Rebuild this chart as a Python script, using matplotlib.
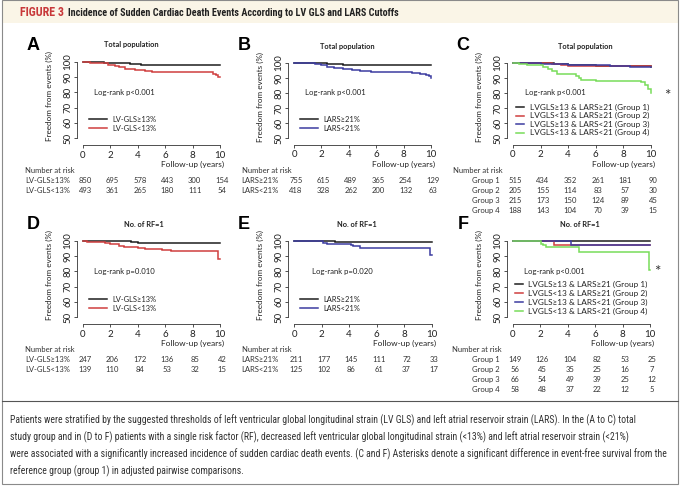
import matplotlib
matplotlib.use("Agg")
import matplotlib.pyplot as plt
from matplotlib import transforms, font_manager
from matplotlib.lines import Line2D
from matplotlib.patches import Rectangle

W, H = 680, 486

# ---------------- data ----------------
years = [0, 2, 4, 6, 8, 10]

# A: LV-GLS, total population
a_hi_t = [0, 1.5, 2.6, 3.4, 4.2, 9.6, 10]
a_hi_s = [100, 99.6, 99.1, 98.6, 98.1, 97.7, 97.7]
a_lo_t = [0, 0.5, 1.2, 1.8, 2.3, 2.6, 3.1, 3.8, 4.5, 5.0, 6.2, 9.5, 9.7, 9.85, 10]
a_lo_s = [100, 99.6, 99.1, 98.2, 97.3, 96.4, 95.6, 95.0, 94.2, 93.7, 93.3, 92.3, 91.2, 90.0, 90.0]

# B: LARS, total population
b_hi_t = [0, 2.4, 3.0, 3.6, 4.2, 10]
b_hi_s = [100, 99.6, 99.2, 98.8, 98.4, 98.4]
b_lo_t = [0, 1.5, 2.0, 2.4, 2.9, 3.6, 4.2, 4.8, 5.6, 8.6, 9.2, 9.6, 9.85, 10]
b_lo_s = [100, 99.5, 98.6, 97.6, 96.8, 96.3, 95.3, 94.4, 94.0, 93.5, 92.9, 92.0, 91.0, 90.3]

# C: four groups, total population
c1_t = [0, 1.5, 3.0, 4.0, 6.0, 8.0, 10]
c1_s = [100, 99.7, 99.2, 98.5, 98.2, 97.7, 97.5]
c2_t = [0, 2.8, 3.5, 4.0, 8.5, 10]
c2_s = [100, 99.3, 98.5, 98.0, 97.8, 97.8]
c3_t = [0, 2.0, 3.0, 4.0, 7.0, 8.5, 10]
c3_s = [100, 99.6, 99.0, 98.5, 98.2, 97.5, 97.5]
c4_t = [0, 0.4, 1.0, 1.8, 2.2, 2.5, 2.8, 3.2, 4.6, 4.75, 4.9, 6.0, 9.3, 9.6, 9.8, 10]
c4_s = [100, 99.3, 98.8, 98.4, 97.3, 96.0, 94.4, 92.6, 91.6, 90.0, 88.6, 88.1, 87.3, 85.4, 82.5, 80.0]

# D: LV-GLS, one risk factor
d_hi_t = [0, 1.0, 3.5, 4.0, 10]
d_hi_s = [100, 99.8, 99.3, 98.5, 98.5]
d_lo_t = [0, 0.3, 1.6, 2.0, 2.6, 3.0, 4.0, 4.5, 5.8, 6.4, 9.85, 10]
d_lo_s = [100, 99.5, 99.0, 98.0, 97.0, 96.3, 95.6, 94.8, 93.8, 93.1, 88.0, 88.0]

# E: LARS, one risk factor
e_hi_t = [0, 3.0, 10]
e_hi_s = [100, 99.5, 99.5]
e_lo_t = [0, 2.1, 2.4, 4.1, 4.3, 4.8, 9.85, 10]
e_lo_s = [100, 99.0, 98.2, 97.4, 96.6, 95.6, 91.0, 91.0]

# F: four groups, one risk factor
f1_t = [0, 10]
f1_s = [100, 100]
f2_t = [0, 3.0, 10]
f2_s = [100, 97.4, 97.4]
f3_t = [0, 4.2, 10]
f3_s = [100, 97.4, 97.4]
f4_t = [0, 2.05, 2.2, 2.4, 4.8, 9.9, 10]
f4_s = [100, 98.3, 97.2, 96.0, 93.0, 81.0, 81.0]

# numbers at risk
risk_a = [[850, 695, 578, 443, 300, 154], [493, 361, 265, 180, 111, 54]]
risk_b = [[755, 615, 489, 365, 254, 129], [418, 328, 262, 200, 132, 63]]
risk_c = [[515, 434, 352, 261, 181, 90], [205, 155, 114, 83, 57, 30],
          [215, 173, 150, 124, 89, 45], [188, 143, 104, 70, 39, 15]]
risk_d = [[247, 206, 172, 136, 85, 42], [139, 110, 84, 53, 32, 15]]
risk_e = [[211, 177, 145, 111, 72, 33], [125, 102, 86, 61, 37, 17]]
risk_f = [[149, 126, 104, 82, 53, 25], [56, 45, 35, 25, 16, 7],
          [66, 54, 49, 39, 25, 12], [58, 48, 37, 22, 12, 5]]

gls_labels = ["LV-GLS\u226513%", "LV-GLS<13%"]
lars_labels = ["LARS\u226521%", "LARS<21%"]
group_labels = ["LVGLS\u226513 & LARS\u226521 (Group 1)", "LVGLS<13 & LARS\u226521 (Group 2)",
                "LVGLS\u226513 & LARS<21 (Group 3)", "LVGLS<13 & LARS<21 (Group 4)"]
group_short = ["Group 1", "Group 2", "Group 3", "Group 4"]

caption = [
    "Patients were stratified by the suggested thresholds of left ventricular global longitudinal strain (LV GLS) and left atrial reservoir strain (LARS). In the (A to C) total",
    "study group and in (D to F) patients with a single risk factor (RF), decreased left ventricular global longitudinal strain (<13%) and left atrial reservoir strain (<21%)",
    "were associated with a significantly increased incidence of sudden cardiac death events. (C and F) Asterisks denote a significant difference in event-free survival from the",
    "reference group (group 1) in adjusted pairwise comparisons.",
]

BLACK, RED, BLUE, GREEN = "#1e1e1e", "#cf3f3f", "#3c3ca0", "#78dc5a"

# ---------------- fonts ----------------
installed = {f.name for f in font_manager.fontManager.ttflist}
plot_font = "Lato" if "Lato" in installed else "DejaVu Sans"
narrow = next((n for n in ["Liberation Sans Narrow", "Roboto Condensed", "Open Sans Condensed"]
               if n in installed), plot_font)
plt.rcParams["font.family"] = [plot_font, "DejaVu Sans"]

fig = plt.figure(figsize=(W / 100, H / 100), dpi=100)
fig.patch.set_facecolor("white")
TP = transforms.Affine2D().scale(1 / W, -1 / H).translate(0, 1) + fig.transFigure
renderer = fig.canvas.get_renderer()


def fs_for(s, width, **kw):
    t = fig.text(0, 0, s, fontsize=10, **kw)
    w = t.get_window_extent(renderer).width
    t.remove()
    return 10 * width / w


def txt(x, y, s, **kw):
    kw.setdefault("va", "center")
    kw.setdefault("color", "#222222")
    return fig.text(x, y, s, transform=TP, **kw)


# frame, header band, separator
fig.add_artist(Rectangle((2, 0), 676, 23, transform=TP, facecolor="#faf5e7", edgecolor="none"))
fig.add_artist(Rectangle((2, 0.5), 676, 483, transform=TP, facecolor="none",
                         edgecolor="#8a8a8a", lw=0.8))
fig.add_artist(Line2D([2, 678], [401, 401], transform=TP, color="#555555", lw=0.8))

head_font = [narrow, "DejaVu Sans"]
txt(20, 12.5, "FIGURE 3", fontsize=fs_for("FIGURE 3", 44, weight="bold", family=head_font),
    weight="bold", color="#c8383a", family=head_font)
head_title = "Incidence of Sudden Cardiac Death Events According to LV GLS and LARS Cutoffs"
txt(68, 12.5, head_title, fontsize=fs_for(head_title, 330, weight="bold", family=head_font),
    weight="bold", family=head_font)

cap_font = [narrow, "DejaVu Sans"]
cap_fs = min(fs_for(line, 648, family=cap_font) for line in caption[:3])
for i, line in enumerate(caption):
    txt(10, 420.5 + i * 16.8, line, fontsize=cap_fs, family=cap_font, color="#333333")

# font sizes for the panel texts
title_fs = fs_for("Total population", 54, weight="bold")
lr_fs = fs_for("Log-rank p<0.001", 61)
leg_fs = fs_for(gls_labels[0], 44)
leg4_fs = fs_for(group_labels[0], 119)
tab_fs = fs_for("Number at risk", 50)
fu_fs = fs_for("Follow-up (years)", 63)
yl_fs = fs_for("Freedom from events (%)", 90)


def km_panel(letter, title, title_x, pval, curves, colors, labels, risk, risk_labels,
             x0, x10, y100, y50, lr_dx, leg_y, leg_step, leg_x, leg_len, lab_x, nar_x,
             star=None):
    sx = (x10 - x0) / 10.0
    sy = (y50 - y100) / 50.0
    xlo, xhi, ylo, yhi = -0.44, 10.3, 45.4, 101.2
    left, right = x0 + xlo * sx, x0 + xhi * sx
    top, bottom = y100 - (yhi - 100) * sy, y100 + (100 - ylo) * sy
    ax = fig.add_axes([left / W, 1 - bottom / H, (right - left) / W, (bottom - top) / H])
    ax.set_xlim(xlo, xhi)
    ax.set_ylim(ylo, yhi)
    ax.patch.set_visible(False)
    for s in ["top", "right"]:
        ax.spines[s].set_visible(False)
    for s in ["left", "bottom"]:
        ax.spines[s].set_linewidth(0.6)
        ax.spines[s].set_color("#333333")
    ax.spines["left"].set_bounds(50, 100)
    ax.spines["bottom"].set_bounds(0, 10)
    ax.set_xticks(years)
    ax.set_yticks(range(50, 101, 10))
    ax.set_yticklabels([str(v) for v in range(50, 101, 10)], rotation=90, va="center")
    ax.tick_params(length=2.5, width=0.6, labelsize=7, color="#333333", labelcolor="#222222")
    ax.tick_params(axis="x", pad=1.5)
    ax.tick_params(axis="y", pad=0.8)

    for (t, s), c in zip(curves, colors):
        ax.step(t, s, where="post", color=c, lw=1.1, solid_joinstyle="miter")

    # text around the axes
    txt(x0 - 50, y100 - 17, letter, fontsize=13, weight="bold", ha="center",
        family=["Liberation Sans", "DejaVu Sans"], color="black")
    txt(title_x, y100 - 17, title, fontsize=title_fs, weight="bold", ha="center")
    txt(x0 + lr_dx, y100 + 30, pval, fontsize=lr_fs)
    txt(x0 - 34, (y100 + y50) / 2 - 4, "Freedom from events (%)", fontsize=yl_fs,
        rotation=90, ha="center")
    txt(x10 + 4.5, y50 + 26, "Follow-up (years)", fontsize=fu_fs, ha="right")

    lfs = leg_fs if len(labels) == 2 else leg4_fs
    for i, (lab, c) in enumerate(zip(labels, colors)):
        yy = leg_y + i * leg_step
        fig.add_artist(Line2D([x0 + leg_x, x0 + leg_x + leg_len], [yy, yy], transform=TP,
                              color=c, lw=1.1))
        txt(x0 + leg_x + leg_len + 5.5, yy, lab, fontsize=lfs)

    if star:
        txt(x10 + star[0], y100 + star[1], "*", fontsize=11, ha="center", color="#333333")

    # number at risk table
    bt = transforms.blended_transform_factory(ax.transData, TP)
    txt(x0 + nar_x, y50 + 32, "Number at risk", fontsize=tab_fs, color="#333333")
    for i, (row, lab) in enumerate(zip(risk, risk_labels)):
        yy = y50 + 42 + i * 10
        txt(x0 + lab_x, yy, lab, fontsize=tab_fs, color="#333333")
        for t, n in zip(years, row):
            ax.text(t + 0.15, yy, str(n), transform=bt, fontsize=tab_fs, ha="center",
                    va="center", color="#333333", clip_on=False)
    return ax


km_panel("A", "Total population", 131, "Log-rank p<0.001",
         [(a_hi_t, a_hi_s), (a_lo_t, a_lo_s)], [BLACK, RED], gls_labels, risk_a, gls_labels,
         83, 220, 62, 138, 11, 119, 9, 6, 18, -58, -58)
km_panel("B", "Total population", 347, "Log-rank p<0.001",
         [(b_hi_t, b_hi_s), (b_lo_t, b_lo_s)], [BLACK, BLUE], lars_labels, risk_b, lars_labels,
         294, 431, 63, 138, 11, 119, 9, 6, 18, -53, -52)
km_panel("C", "Total population", 585, "Log-rank p<0.001",
         [(c1_t, c1_s), (c2_t, c2_s), (c3_t, c3_s), (c4_t, c4_s)],
         [BLACK, RED, BLUE, GREEN], group_labels, risk_c, group_short,
         513, 651, 63, 138, 12, 107.5, 8.4, 3, 8, -41, -60, star=(16, 33))
km_panel("D", "No. of RF=1", 144, "Log-rank p=0.010",
         [(d_hi_t, d_hi_s), (d_lo_t, d_lo_s)], [BLACK, RED], gls_labels, risk_d, gls_labels,
         83, 220, 241, 317, 11, 299, 9, 6, 18, -58, -58)
km_panel("E", "No. of RF=1", 357, "Log-rank p=0.020",
         [(e_hi_t, e_hi_s), (e_lo_t, e_lo_s)], [BLACK, BLUE], lars_labels, risk_e, lars_labels,
         294, 432, 241, 317, 18, 299, 9, 6, 18, -53, -52)
km_panel("F", "No. of RF=1", 580, "Log-rank p<0.001",
         [(f1_t, f1_s), (f2_t, f2_s), (f3_t, f3_s), (f4_t, f4_s)],
         [BLACK, RED, BLUE, GREEN], group_labels, risk_f, group_short,
         513, 650, 241, 317, 11, 284, 9, 2, 8, -41, -61, star=(7, 31))

fig.savefig("out.png", dpi=100)
